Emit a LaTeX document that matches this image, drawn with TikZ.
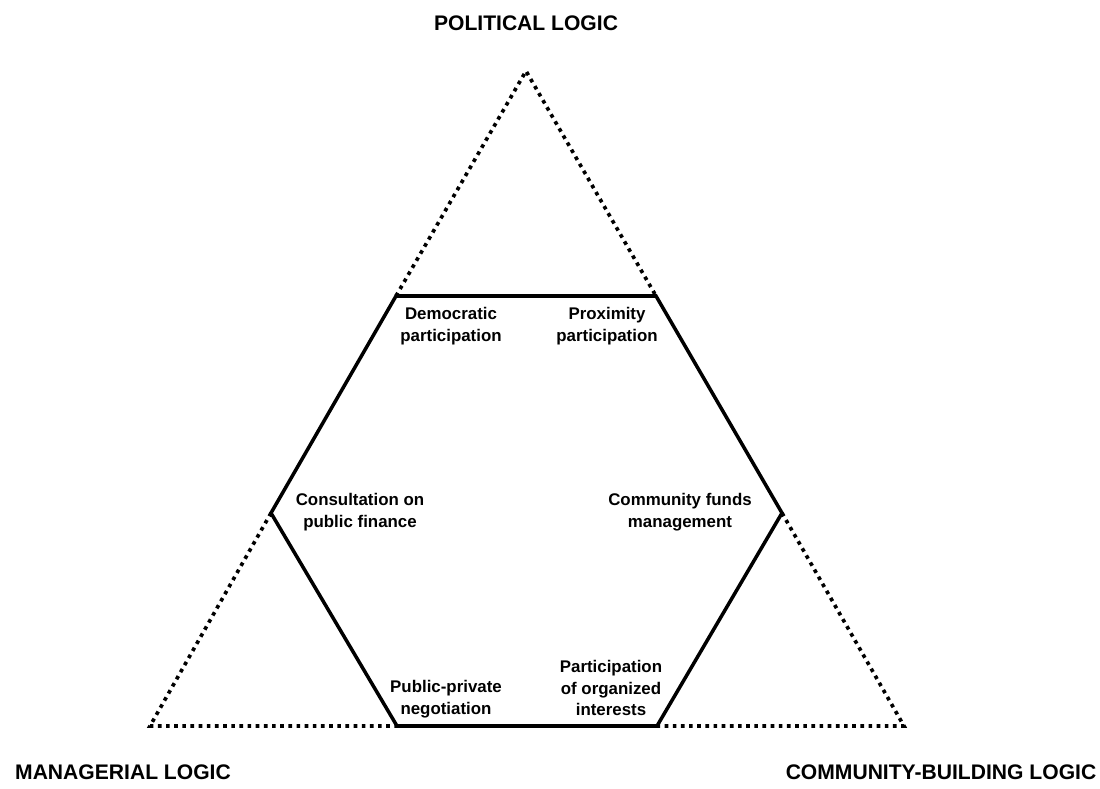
\documentclass[tikz,border=0pt]{standalone}
\usepackage{fontspec}
\setmainfont{Liberation Sans}
\usetikzlibrary{positioning}

\begin{document}
\begin{tikzpicture}[
    x=0.025cm, y=-0.025cm,
    logic/.style={font=\fontsize{15}{18}\selectfont\bfseries, inner sep=0pt},
    mode/.style={font=\fontsize{12}{15.5}\selectfont\bfseries, align=center, inner sep=0pt},
    hexline/.style={line width=2.5pt, line join=miter},
    corner/.style={line width=2.6pt, dash pattern=on 2.6pt off 3.2pt}
]
\useasboundingbox (0,0) rectangle (1100,789);

% Triangle corners
\coordinate (top) at (526,71);
\coordinate (left) at (150,726);
\coordinate (right) at (904,726);

% Hexagon vertices (on the triangle sides)
\coordinate (h1) at (396,296);
\coordinate (h2) at (656,296);
\coordinate (h3) at (782,513);
\coordinate (h4) at (657,726);
\coordinate (h5) at (397,726);
\coordinate (h6) at (271,513);

% Hexagon
\draw[hexline] (h1) -- (h2) -- (h3) -- (h4) -- (h5) -- (h6) -- cycle;

% Dotted corners of the triangle
\draw[corner] (h1) -- (top) -- (h2);
\draw[corner] (h6) -- (left) -- (h5);
\draw[corner] (h3) -- (right) -- (h4);

% Logics
\node[logic] (political) at (526,23) {POLITICAL LOGIC};
\node[logic] (managerial) at (123,772) {MANAGERIAL LOGIC};
\node[logic] (community) at (941,772) {COMMUNITY-BUILDING LOGIC};

% Forms of participation
\node[mode] (democratic) at (451,326) {Democratic\\participation};
\node[mode] (proximity) at (607,326) {Proximity\\participation};
\node[mode] (consultation) at (360,512) {Consultation on\\public finance};
\node[mode] (funds) at (680,512) {Community funds\\management};
\node[mode] (negotiation) at (446,699) {Public-private\\negotiation};
\node[mode] (interests) at (611,688) {Participation\\of organized\\interests};

\end{tikzpicture}
\end{document}
